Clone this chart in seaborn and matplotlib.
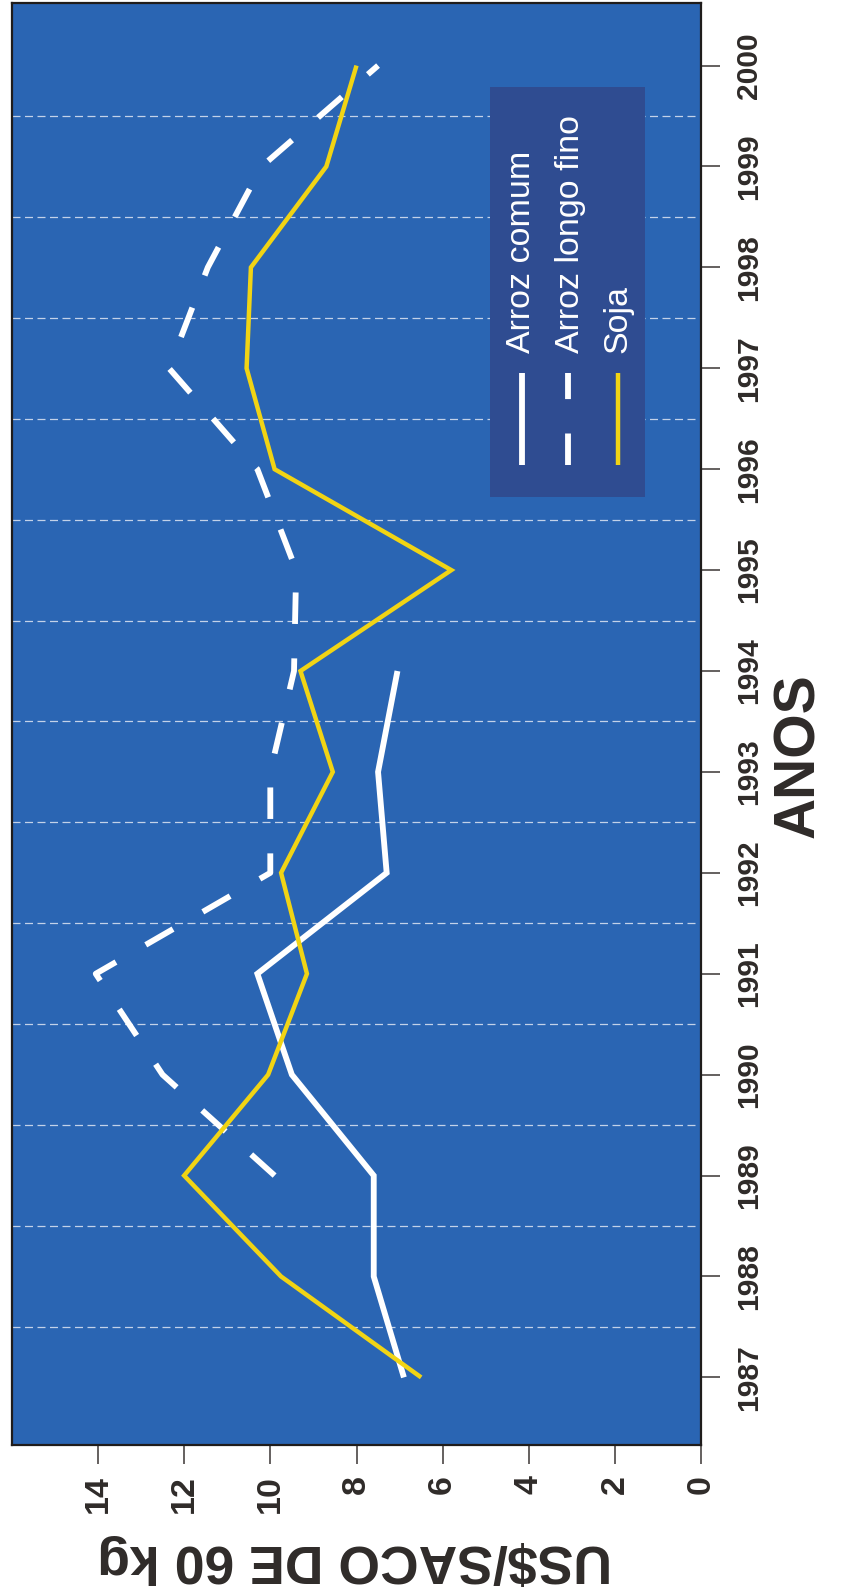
import numpy as np
import pandas as pd
import matplotlib
matplotlib.use("Agg")
import matplotlib.pyplot as plt
from matplotlib.patches import Rectangle
import seaborn as sns

# Preços médios anuais (US$/saco de 60 kg)
anos = [1987, 1988, 1989, 1990, 1991, 1992, 1993, 1994, 1995, 1996, 1997, 1998, 1999, 2000]
arroz_comum = [6.9, 7.6, 7.6, 9.5, 10.3, 7.3, 7.5, 7.05,
               np.nan, np.nan, np.nan, np.nan, np.nan, np.nan]
arroz_longo_fino = [np.nan, np.nan, 9.9, 12.5, 14.05, 10.0, 10.0, 9.45,
                    9.4, 10.3, 12.35, 11.45, 10.2, 7.5]
soja = [6.5, 9.75, 12.0, 10.05, 9.15, 9.75, 8.55, 9.3,
        5.8, 9.9, 10.55, 10.45, 8.7, 8.0]

series_nomes = ["Arroz comum", "Arroz longo fino", "Soja"]
valor_ticks = [0, 2, 4, 6, 8, 10, 12, 14]
titulo_x = "ANOS"
titulo_y = "US$/SACO DE 60 kg"

sns.set_style("white")
plt.rcParams["font.family"] = ["Liberation Sans", "DejaVu Sans"]

AZUL = "#2a65b3"
AZUL_LEG = "#2f4c91"
AMARELO = "#f1d414"
BRANCO = "#ffffff"
TEXTO = "#2f2b29"

df = pd.DataFrame({
    "ano": anos * 3,
    "valor": arroz_comum + arroz_longo_fino + soja,
    "serie": [n for n in series_nomes for _ in anos],
}).dropna()

estilos = {
    "Arroz comum": dict(color=BRANCO, linewidth=4.2, linestyle="-"),
    "Arroz longo fino": dict(color=BRANCO, linewidth=4.2, linestyle=(0, (5.4, 5.9))),
    "Soja": dict(color=AMARELO, linewidth=3.2, linestyle="-"),
}

W, H = 847, 1596
fig = plt.figure(figsize=(W / 100, H / 100), dpi=100)
fig.patch.set_facecolor("white")

# plot box in pixel coordinates
x0, x1, y0, y1 = 11.7, 701.3, 3.0, 1445.0
ax = fig.add_axes([x0 / W, 1 - y1 / H, (x1 - x0) / W, (y1 - y0) / H])
ax.set_facecolor(AZUL)

for nome in series_nomes:
    sub = df[df["serie"] == nome]
    sns.lineplot(data=sub, x="valor", y="ano", orient="y", estimator=None,
                 ax=ax, legend=False, solid_joinstyle="miter",
                 solid_capstyle="butt", dash_capstyle="butt", zorder=3,
                 **estilos[nome])

ax.set_xlim(16, 0)
ax.set_ylim(1986.33, 2000.62)
ax.set_xlabel("")
ax.set_ylabel("")

# value axis (bottom)
ax.set_xticks(valor_ticks)
ax.set_xticklabels([str(v) for v in valor_ticks], rotation=90, fontsize=24.5,
                   fontweight="bold", color=TEXTO, ha="center", va="top")

# year axis (right)
ax.yaxis.tick_right()
ax.set_yticks(anos)
ax.set_yticklabels([str(a) for a in anos], rotation=90, fontsize=21.6,
                   fontweight="bold", color=TEXTO, ha="left", va="center")
ax.set_yticks(np.arange(1987.5, 2000.0, 1.0), minor=True)

ax.tick_params(axis="x", which="major", direction="out", length=14, width=1.1,
               color="#3a3634", pad=8, bottom=True, top=False)
ax.tick_params(axis="y", which="major", direction="out", length=14, width=1.1,
               color="#3a3634", pad=10.5, right=True, left=False)
ax.tick_params(axis="y", which="minor", length=0)

ax.grid(False)
ax.grid(axis="y", which="minor", color="#dfe6f3", alpha=0.85,
        linewidth=0.9, linestyle=(0, (6.4, 3.6)))
ax.set_axisbelow(True)

for s in ax.spines.values():
    s.set_visible(True)
    s.set_color("#1f1c1b")
    s.set_linewidth(1.6)

# legend panel, drawn rotated like the rest of the chart
def fx(px):
    return (px - x0) / (x1 - x0)

def fy(py):
    return (y1 - py) / (y1 - y0)

ax.add_patch(Rectangle((fx(490), fy(497)), fx(645) - fx(490), fy(87) - fy(497),
                       transform=ax.transAxes, facecolor=AZUL_LEG,
                       edgecolor="none", zorder=4))
handle_x = [521.7, 568.0, 618.3]
texto_x = [530.5, 579.0, 626.5]
for nome, hx, tx in zip(series_nomes, handle_x, texto_x):
    st = estilos[nome]
    ax.plot([fx(hx), fx(hx)], [fy(465), fy(373)], transform=ax.transAxes,
            color=st["color"], linewidth=st["linewidth"], linestyle=st["linestyle"],
            solid_capstyle="butt", dash_capstyle="butt", zorder=5)
    ax.text(fx(tx), fy(353), nome, transform=ax.transAxes, rotation=90,
            rotation_mode="anchor", ha="left", va="baseline", fontsize=24.5,
            color="white", zorder=5)

# axis titles
fig.text(354.5 / W, 1 - 1545 / H, titulo_y, rotation=180, rotation_mode="anchor",
         ha="center", va="baseline", fontsize=38.5, fontweight="bold", color=TEXTO)
fig.text(814 / W, 1 - 756 / H, titulo_x, rotation=90, rotation_mode="anchor",
         ha="center", va="baseline", fontsize=41, fontweight="bold", color=TEXTO)

fig.savefig("out.png", dpi=100, facecolor="white")
